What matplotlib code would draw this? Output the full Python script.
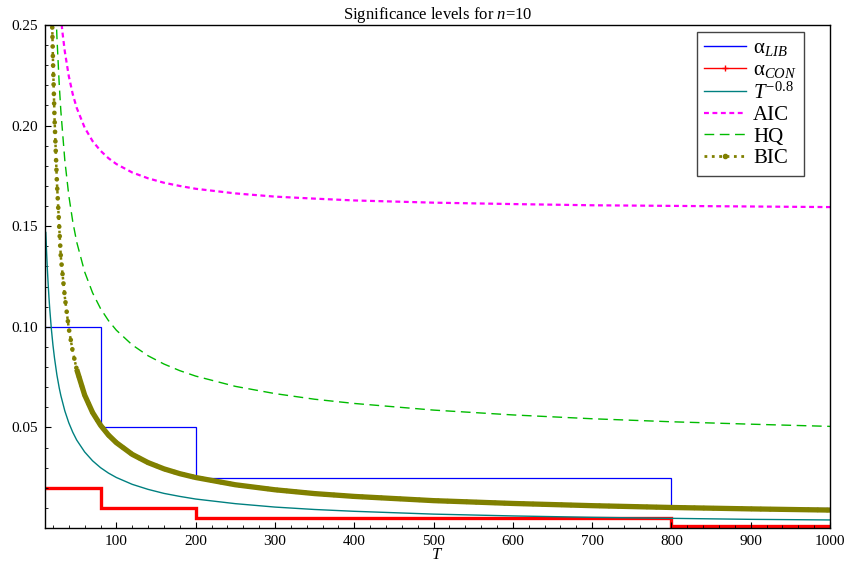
import numpy as np
import matplotlib
matplotlib.use('Agg')
import matplotlib.pyplot as plt
from matplotlib.lines import Line2D
from matplotlib.ticker import MultipleLocator, FixedLocator, FormatStrFormatter

plt.rcParams['font.family'] = 'Liberation Serif'
plt.rcParams['mathtext.fontset'] = 'custom'
plt.rcParams['mathtext.rm'] = 'Liberation Serif'
plt.rcParams['mathtext.it'] = 'Liberation Serif:italic'
plt.rcParams['mathtext.bf'] = 'Liberation Serif:bold'

# step thresholds (edges in T, values per interval)
step_edges = [10, 80, 200, 800, 1000]
alpha_lib = [0.10, 0.05, 0.025, 0.01]
alpha_con = [0.02, 0.01, 0.005, 0.001]

# T^-0.8 curve
T_pow = [11, 12, 13, 14, 15, 16, 18, 20, 22, 25, 28, 30, 35, 40, 45, 50, 60, 70, 80, 90,
         100, 120, 140, 160, 180, 200, 250, 300, 350, 400, 500, 600, 700, 800, 900, 1000]
pow_vals = [0.1469, 0.1370, 0.1285, 0.1211, 0.1146, 0.1088, 0.0990, 0.0910, 0.0844, 0.0761,
            0.0695, 0.0658, 0.0582, 0.0523, 0.0476, 0.0437, 0.0378, 0.0334, 0.0300, 0.0273,
            0.0251, 0.0217, 0.0192, 0.0172, 0.0157, 0.0144, 0.0121, 0.0104, 0.0092, 0.0083,
            0.0069, 0.0060, 0.0053, 0.0048, 0.0043, 0.0040]

# information criteria implied significance levels
T_aic = [28, 30, 32, 35, 40, 45, 50, 60, 70, 80, 90, 100, 120, 140, 160, 180, 200, 250,
         300, 350, 400, 500, 600, 700, 800, 900, 1000]
aic = [0.2636, 0.2543, 0.2464, 0.2368, 0.2246, 0.2156, 0.2088, 0.1990, 0.1923, 0.1875,
       0.1838, 0.1809, 0.1767, 0.1738, 0.1716, 0.1700, 0.1686, 0.1663, 0.1647, 0.1637,
       0.1628, 0.1617, 0.1610, 0.1604, 0.1601, 0.1598, 0.1595]

T_hq = [22, 25, 28, 30, 35, 40, 45, 50, 60, 70, 80, 90, 100, 120, 140, 160, 180, 200, 250,
        300, 350, 400, 500, 600, 700, 800, 900, 1000]
hq = [0.2775, 0.2443, 0.2201, 0.2072, 0.1827, 0.1653, 0.1523, 0.1421, 0.1273, 0.1169,
      0.1091, 0.1031, 0.0983, 0.0910, 0.0856, 0.0815, 0.0782, 0.0755, 0.0704, 0.0668,
      0.0640, 0.0619, 0.0586, 0.0562, 0.0543, 0.0528, 0.0516, 0.0505]

T_bic = [17, 19, 20, 22, 25, 28, 30, 35, 40, 45, 50, 60, 70, 80, 90, 100, 120, 140, 160,
         180, 200, 250, 300, 350, 400, 500, 600, 700, 800, 900, 1000]
bic = [0.2982, 0.2514, 0.2332, 0.2039, 0.1721, 0.1492, 0.1346, 0.1148, 0.0992, 0.0877,
       0.0788, 0.0661, 0.0574, 0.0511, 0.0462, 0.0424, 0.0366, 0.0325, 0.0294, 0.0270,
       0.0251, 0.0215, 0.0190, 0.0171, 0.0157, 0.0136, 0.0122, 0.0111, 0.0102, 0.0095,
       0.0089]

c_lib = '#0000ff'
c_con = '#ff0000'
c_pow = '#008080'
c_aic = '#ff00ff'
c_hq = '#00bb00'
c_bic = '#808000'

fig = plt.figure(figsize=(8.5, 5.66), dpi=100)
ax = fig.add_axes([45 / 850, 38 / 566, 785 / 850, 503 / 566])

ax.stairs(alpha_lib, step_edges, baseline=None, color=c_lib, lw=0.9)
ax.stairs(alpha_con, step_edges, baseline=None, color=c_con, lw=2.4)
ax.plot(T_pow, pow_vals, color=c_pow, lw=1.0)
ax.plot(T_aic, aic, color=c_aic, lw=1.6, dashes=(2.2, 1.6))
ax.plot(T_hq, hq, color=c_hq, lw=1.0, dashes=(7, 4))
# BIC: fine dotted line plus round dots, dense part looks like a thick band
ax.plot(T_bic, bic, color=c_bic, lw=1.8, ls=':')
ax.plot(T_bic, bic, color=c_bic, lw=3.4, dashes=(0.01, 2.0), dash_capstyle='round')
i0 = T_bic.index(50)
ax.plot(T_bic[i0:], bic[i0:], color=c_bic, lw=3.8, solid_capstyle='butt')

ax.set_xlim(10, 1000)
ax.set_ylim(0, 0.25)
ax.xaxis.set_major_locator(FixedLocator(list(range(100, 1001, 100))))
ax.xaxis.set_minor_locator(MultipleLocator(20))
ax.yaxis.set_major_locator(FixedLocator([0.05, 0.10, 0.15, 0.20, 0.25]))
ax.yaxis.set_minor_locator(MultipleLocator(0.01))
ax.yaxis.set_major_formatter(FormatStrFormatter('%.2f'))
ax.tick_params(which='both', direction='in', top=False, right=False, labelsize=11, pad=5)
ax.tick_params(which='major', length=4, width=0.8)
ax.tick_params(which='minor', length=2, width=0.6)
for s in ax.spines.values():
    s.set_linewidth(1.0)

ax.set_title('Significance levels for $n$=10', fontsize=12, pad=3)
ax.set_xlabel('$T$', fontsize=12, labelpad=-1)

handles = [
    Line2D([], [], color=c_lib, lw=1.0),
    Line2D([], [], color=c_con, lw=1.0, marker='+', ms=4),
    Line2D([], [], color=c_pow, lw=1.0),
    Line2D([], [], color=c_aic, lw=1.6, dashes=(2.2, 1.6)),
    Line2D([], [], color=c_hq, lw=1.0, dashes=(7, 4)),
    Line2D([], [], color=c_bic, lw=2.0, ls=':', marker='o', ms=3),
]
labels = [r'$\mathrm{\alpha}_{LIB}$', r'$\mathrm{\alpha}_{CON}$', r'$T^{-0.8}$',
          'AIC', 'HQ', 'BIC']
leg = ax.legend(handles, labels, loc='upper right', bbox_to_anchor=(0.967, 0.987),
                borderaxespad=0, fontsize=15, frameon=True, fancybox=False,
                edgecolor='#444444', framealpha=1, handlelength=2.0,
                handletextpad=0.35, labelspacing=0.1, borderpad=0.35)
leg.get_frame().set_linewidth(1.0)

fig.savefig('out.png', dpi=100)
